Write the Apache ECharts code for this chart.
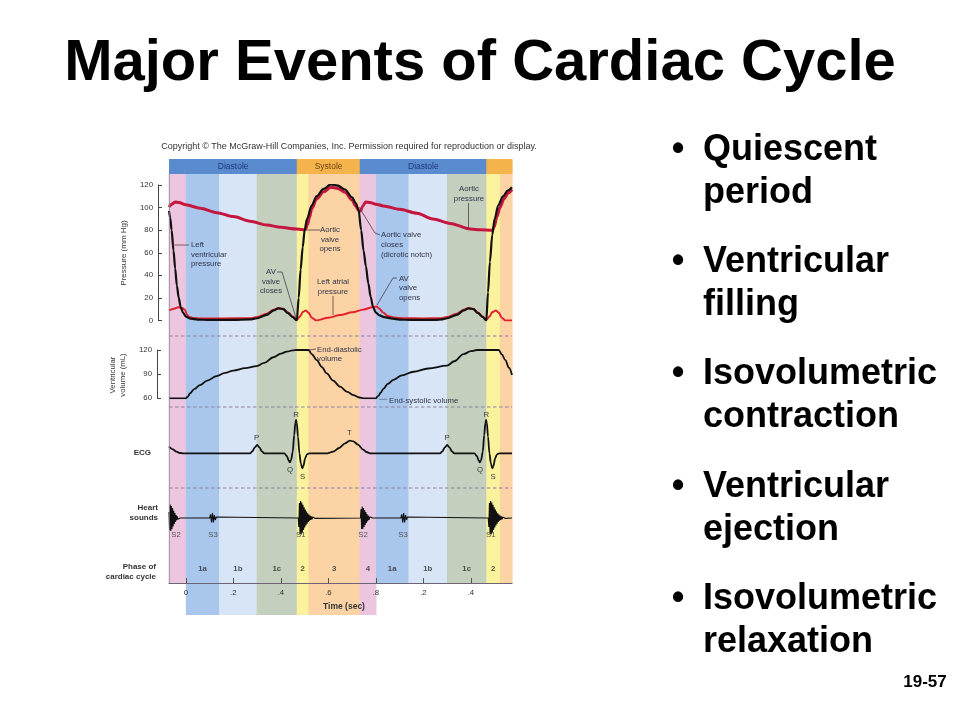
<!DOCTYPE html>
<html><head><meta charset="utf-8">
<script src="https://cdn.jsdelivr.net/npm/echarts@6/dist/echarts.min.js"></script>
<style>html,body{margin:0;padding:0;background:#fff}#c{width:960px;height:720px}</style>
</head><body><div id="c"></div>
<script>
// ---------------- data ----------------
const timeRange = [-0.071, 1.373];
const phaseBounds = [-0.071, 0, 0.14, 0.298, 0.467, 0.516, 0.732, 0.80, 0.937, 1.099, 1.265, 1.322, 1.373];
const phaseNames  = ['4', '1a', '1b', '1c', '2', '3', '4', '1a', '1b', '1c', '2', '3'];
const phaseLabels = ['', '1a', '1b', '1c', '2', '3', '4', '1a', '1b', '1c', '2', ''];
const extendedPhaseRange = [0, 0.80];
const headerBounds = [-0.071, 0.467, 0.732, 1.265, 1.373];
const headerNames  = ['Diastole', 'Systole', 'Diastole', ''];
const timeTicks = [0, 0.2, 0.4, 0.6, 0.8, 1.0, 1.2];
const timeTickLabels = ['0', '.2', '.4', '.6', '.8', '.2', '.4'];

const lvPressure = [
  [-0.071, 97], [-0.066, 91], [-0.06, 80], [-0.052, 62], [-0.045, 46], [-0.038, 31], [-0.03, 20], [-0.022, 12], [-0.012, 7],
  [0.0, 3.5], [0.02, 1.6], [0.05, 0.8], [0.1, 0.5], [0.2, 0.5], [0.27, 1], [0.3, 2], [0.34, 5], [0.37, 9], [0.39, 10.8],
  [0.41, 10], [0.43, 6.5], [0.45, 3], [0.467, 0],
  [0.475, 20], [0.483, 45], [0.492, 65], [0.50, 80], [0.51, 90], [0.53, 102], [0.55, 110], [0.58, 116.5], [0.61, 120.5],
  [0.64, 119.5], [0.67, 116], [0.70, 109], [0.715, 104], [0.727, 98], [0.738, 80], [0.748, 62], [0.758, 48], [0.768, 33],
  [0.778, 21], [0.788, 12], [0.80, 7], [0.815, 4.5], [0.835, 3], [0.87, 1.6], [0.9, 0.8], [0.95, 0.5], [1.05, 0.5],
  [1.08, 1], [1.1, 2], [1.14, 5], [1.17, 9], [1.19, 10.8], [1.21, 10], [1.23, 6.5], [1.25, 3], [1.265, 0],
  [1.272, 25], [1.28, 52], [1.29, 76], [1.30, 90], [1.315, 102], [1.335, 110], [1.355, 115], [1.373, 118]
];
const aorticPressure = [
  [-0.071, 100.5], [-0.06, 103], [-0.045, 105], [-0.03, 104.5], [0.0, 102.5], [0.06, 99.4], [0.13, 95.5], [0.2, 92],
  [0.27, 88], [0.34, 84.6], [0.40, 82.5], [0.467, 81], [0.503, 80.3],
  [0.512, 85], [0.52, 91], [0.53, 99], [0.55, 107.5], [0.58, 114], [0.61, 118], [0.64, 117], [0.67, 113.5], [0.70, 106.5],
  [0.715, 101.5], [0.727, 97.5], [0.735, 97], [0.745, 101.5], [0.757, 105], [0.775, 104.5], [0.80, 103], [0.832, 101.5],
  [0.9, 98.5], [0.973, 95], [1.04, 90], [1.113, 86], [1.197, 81], [1.24, 80.3], [1.29, 80],
  [1.298, 83], [1.31, 92], [1.322, 100], [1.34, 108], [1.357, 113], [1.373, 116]
];
const atrialPressure = [
  [-0.071, 9], [-0.05, 10.5], [-0.032, 11.7], [-0.015, 11], [-0.004, 9.5], [0.005, 5], [0.015, 3], [0.03, 2.2], [0.06, 1.8],
  [0.15, 1.8], [0.27, 2], [0.3, 3], [0.34, 6], [0.37, 9.5], [0.39, 11], [0.41, 10.3], [0.43, 7], [0.45, 3.5], [0.467, 0.5],
  [0.48, 3.5], [0.492, 7.5], [0.505, 8.8], [0.516, 7], [0.53, 2.5], [0.548, 0], [0.6, 2.5], [0.65, 4.8], [0.7, 7.2],
  [0.75, 9.8], [0.785, 11.8], [0.802, 12.3], [0.815, 10.5], [0.83, 7], [0.85, 4], [0.875, 2.6], [0.92, 2], [1.0, 1.8],
  [1.07, 2], [1.1, 3], [1.14, 6], [1.17, 9.5], [1.19, 11], [1.21, 10.3], [1.23, 7], [1.25, 3.5], [1.265, 0.5],
  [1.278, 3.5], [1.29, 7.5], [1.305, 8.8], [1.317, 7], [1.33, 2.5], [1.345, 0], [1.373, 0]
];
const ventricularVolume = [
  [-0.071, 60], [0.0, 60], [0.008, 62], [0.017, 66], [0.035, 71.5], [0.059, 76.3], [0.09, 82], [0.129, 87.5], [0.165, 91.5],
  [0.2, 94.5], [0.25, 97.5], [0.298, 100], [0.33, 104], [0.368, 111], [0.4, 115.5], [0.425, 118], [0.45, 119.5], [0.467, 120],
  [0.516, 120], [0.53, 115], [0.551, 107.5], [0.572, 99], [0.593, 91], [0.62, 82], [0.649, 74.4], [0.68, 68], [0.705, 64],
  [0.73, 61], [0.748, 60], [0.80, 60], [0.81, 63], [0.82, 67], [0.832, 72], [0.85, 78], [0.874, 83], [0.91, 88.5],
  [0.958, 93], [1.02, 97], [1.099, 100.5], [1.13, 106], [1.169, 115], [1.2, 118.5], [1.226, 120], [1.317, 120],
  [1.33, 114.5], [1.345, 107.5], [1.36, 98], [1.373, 89]
];
const ecgTrace = [
  [-0.071, 0.2], [-0.055, 0.12], [-0.04, 0.05], [-0.025, 0.01], [-0.01, 0], [0.27, 0], [0.28, 0.06], [0.29, 0.18], [0.3, 0.25],
  [0.31, 0.18], [0.32, 0.06], [0.33, 0], [0.415, 0], [0.425, -0.08], [0.433, -0.22], [0.438, -0.27], [0.443, -0.2],
  [0.45, 0.05], [0.456, 0.55], [0.461, 0.92], [0.464, 1.0], [0.467, 0.92], [0.472, 0.5], [0.478, 0.0], [0.484, -0.3],
  [0.49, -0.45], [0.495, -0.38], [0.502, -0.15], [0.51, -0.03], [0.52, 0], [0.595, 0], [0.62, 0.05], [0.645, 0.16],
  [0.67, 0.3], [0.69, 0.38], [0.705, 0.36], [0.725, 0.26], [0.745, 0.12], [0.76, 0.04], [0.775, 0],
  [1.07, 0], [1.08, 0.06], [1.09, 0.18], [1.1, 0.25], [1.11, 0.18], [1.12, 0.06], [1.13, 0], [1.215, 0], [1.225, -0.08],
  [1.233, -0.22], [1.238, -0.27], [1.243, -0.2], [1.25, 0.05], [1.256, 0.55], [1.261, 0.92], [1.264, 1.0], [1.267, 0.92],
  [1.272, 0.5], [1.278, 0], [1.284, -0.3], [1.29, -0.45], [1.295, -0.38], [1.302, -0.15], [1.31, -0.03], [1.32, 0], [1.373, 0]
];
const heartSounds = [
  [-0.071, 0.3], [-0.0685, -0.6], [-0.066, 0.68], [-0.0635, -0.65], [-0.061, 0.6], [-0.0585, -0.55], [-0.056, 0.5],
  [-0.0535, -0.42], [-0.051, 0.36], [-0.0485, -0.3], [-0.046, 0.25], [-0.0435, -0.2], [-0.041, 0.15], [-0.0385, -0.11],
  [-0.036, 0.08], [-0.0335, -0.06], [-0.031, 0.04], [-0.028, -0.02], [-0.024, 0],
  [0.1, 0], [0.104, 0.18], [0.108, -0.22], [0.112, 0.25], [0.116, -0.22], [0.12, 0.15], [0.124, -0.1], [0.128, 0.05], [0.132, 0],
  [0.473, 0], [0.4755, -0.45], [0.478, 0.75], [0.4805, -0.8], [0.483, 0.85], [0.4855, -0.82], [0.488, 0.78], [0.4905, -0.72],
  [0.493, 0.66], [0.4955, -0.6], [0.498, 0.54], [0.5005, -0.48], [0.503, 0.42], [0.5055, -0.37], [0.508, 0.32], [0.5105, -0.28],
  [0.513, 0.24], [0.5155, -0.2], [0.518, 0.17], [0.5205, -0.14], [0.523, 0.12], [0.5255, -0.1], [0.528, 0.08], [0.531, -0.07],
  [0.534, 0.05], [0.537, -0.04], [0.541, 0.03], [0.545, -0.02], [0.55, 0],
  [0.735, 0], [0.7375, 0.45], [0.74, -0.55], [0.7425, 0.58], [0.745, -0.55], [0.7475, 0.5], [0.75, -0.45], [0.7525, 0.4],
  [0.755, -0.35], [0.7575, 0.3], [0.76, -0.25], [0.7625, 0.2], [0.765, -0.16], [0.768, 0.12], [0.771, -0.09], [0.774, 0.06],
  [0.777, -0.04], [0.781, 0.02], [0.786, 0],
  [0.905, 0], [0.909, 0.18], [0.913, -0.22], [0.917, 0.25], [0.921, -0.22], [0.925, 0.15], [0.929, -0.1], [0.933, 0.05], [0.937, 0],
  [1.273, 0], [1.2755, -0.45], [1.278, 0.75], [1.2805, -0.8], [1.283, 0.85], [1.2855, -0.82], [1.288, 0.78], [1.2905, -0.72],
  [1.293, 0.66], [1.2955, -0.6], [1.298, 0.54], [1.3005, -0.48], [1.303, 0.42], [1.3055, -0.37], [1.308, 0.32], [1.3105, -0.28],
  [1.313, 0.24], [1.3155, -0.2], [1.318, 0.17], [1.3205, -0.14], [1.323, 0.12], [1.3255, -0.1], [1.328, 0.08], [1.331, -0.07],
  [1.334, 0.05], [1.337, -0.04], [1.341, 0.03], [1.345, -0.02], [1.35, 0],
  [1.373, 0]
];
const bulletItems = [
  ['Quiescent', 'period'], ['Ventricular', 'filling'], ['Isovolumetric', 'contraction'],
  ['Ventricular', 'ejection'], ['Isovolumetric', 'relaxation']
];

// ---------------- styling / layout ----------------
const phaseColors = { '4': '#ecc6df', '1a': '#a9c6ec', '1b': '#d8e5f6', '1c': '#c5cfbe', '2': '#faf29c', '3': '#fbd3a5' };
const headerColors = { 'Diastole': '#5b8bcf', 'Systole': '#f5b34c', '': '#f5b34c' };
const headerText = { 'Diastole': '#1c3a78', 'Systole': '#6a4508', '': '#000' };
const FONT = '"Liberation Sans", Arial, Helvetica, sans-serif';
const PL = 169, PW = 343;
// background grid: value = 615 - pixelY
const BG = { headTop: 456, headBot: 441, bandBot: 32, extBot: 0 };

const bandData = [];
for (let i = 0; i < phaseNames.length; i++) {
  const t0 = phaseBounds[i], t1 = phaseBounds[i + 1];
  const inExt = t0 >= extendedPhaseRange[0] - 1e-9 && t1 <= extendedPhaseRange[1] + 1e-9;
  bandData.push({ value: [t0, t1, inExt ? BG.extBot : BG.bandBot, BG.headBot], itemStyle: { color: phaseColors[phaseNames[i]] } });
}
const headerData = [];
for (let i = 0; i < headerNames.length; i++) {
  headerData.push({ name: headerNames[i], value: [headerBounds[i], headerBounds[i + 1], BG.headBot, BG.headTop], itemStyle: { color: headerColors[headerNames[i]] } });
}
const phaseLabelData = [];
for (let i = 0; i < phaseLabels.length; i++) {
  if (phaseLabels[i]) phaseLabelData.push({ name: phaseLabels[i], value: [(phaseBounds[i] + phaseBounds[i + 1]) / 2, 0.326] });
}

function rectItem(params, api) {
  const a = api.coord([api.value(0), api.value(3)]);
  const b = api.coord([api.value(1), api.value(2)]);
  return { type: 'rect', shape: { x: a[0], y: a[1], width: b[0] - a[0] + 0.6, height: b[1] - a[1] }, style: { fill: api.visual('color') } };
}
function headerItem(params, api) {
  const el = rectItem(params, api);
  const nm = headerNames[params.dataIndex];
  if (nm) {
    el.textContent = { style: { text: nm, fill: headerText[nm], font: '8.5px ' + FONT } };
    el.textConfig = { position: 'inside' };
  }
  return el;
}

function txt(x, y, text, size, o) {
  o = o || {};
  const lh = o.lh || Math.round(size * 1.3);
  let yy = y - lh / 2;
  const el = {
    type: 'text', x: x, y: yy, z: 100, silent: true,
    style: {
      text: text, fill: o.color || '#222', font: (o.weight || 'normal') + ' ' + size + 'px ' + FONT,
      lineHeight: lh, align: o.align || 'left', textAlign: o.align || 'left', verticalAlign: 'top', textVerticalAlign: 'top'
    }
  };
  if (o.rot) {
    el.x = x; el.y = y; el.rotation = o.rot;
    el.style.verticalAlign = 'middle'; el.style.textVerticalAlign = 'middle';
    el.style.align = 'center'; el.style.textAlign = 'center';
  }
  return el;
}
function poly(pts, color, w, dash) {
  return { type: 'polyline', z: 100, silent: true, shape: { points: pts }, style: { stroke: color || '#4a3f48', lineWidth: w || 0.8, fill: null, lineDash: dash || null } };
}

const ANNO = '#2e3548';
const g = [];
// title
g.push({ type: 'text', x: 480, y: 64, z: 100, style: { text: 'Major Events of Cardiac Cycle', font: 'bold 58px ' + FONT, fill: '#000', align: 'center', textAlign: 'center', verticalAlign: 'middle', textVerticalAlign: 'middle' } });
// bullets
const bulletBase0 = 161, bulletStep = 112.3, bulletLine = 43, bulletSize = 36;
bulletItems.forEach(function (it, i) {
  const b = bulletBase0 + i * bulletStep;
  const mid = b - 0.31 * bulletSize;
  g.push({ type: 'text', x: 678, y: mid, z: 100, style: { text: '•', font: 'bold ' + bulletSize + 'px ' + FONT, fill: '#000', align: 'center', textAlign: 'center', verticalAlign: 'middle', textVerticalAlign: 'middle' } });
  it.forEach(function (line, j) {
    g.push({ type: 'text', x: 703, y: mid + j * bulletLine, z: 100, style: { text: line, font: 'bold ' + bulletSize + 'px ' + FONT, fill: '#000', align: 'left', textAlign: 'left', verticalAlign: 'middle', textVerticalAlign: 'middle' } });
  });
});
g.push({ type: 'text', x: 925, y: 682, z: 100, style: { text: '19-57', font: 'bold 17px ' + FONT, fill: '#000', align: 'center', textAlign: 'center', verticalAlign: 'middle', textVerticalAlign: 'middle' } });
// copyright
g.push(txt(349, 147, 'Copyright \u00A9 The McGraw-Hill Companies, Inc. Permission required for reproduction or display.', 9, { align: 'center', color: '#333' }));
// dashed separators
[336, 407, 488].forEach(function (y) { g.push(poly([[PL, y], [PL + PW, y]], '#8a82a0', 1.1, [3.5, 2.5])); });
// left edge line
g.push(poly([[PL + 0.3, 174], [PL + 0.3, 583]], '#8a7f92', 0.8));
// axis names / row labels
g.push(txt(124, 253, 'Pressure (mm Hg)', 8, { rot: Math.PI / 2, color: '#333' }));
g.push(txt(118, 375, 'Ventricular\nvolume (mL)', 7.8, { rot: Math.PI / 2, color: '#333', lh: 10 }));
g.push(txt(151, 453, 'ECG', 8, { align: 'right', weight: 'bold', color: '#333' }));
g.push(txt(158, 508, 'Heart\nsounds', 8, { align: 'right', weight: 'bold', color: '#333', lh: 10 }));
g.push(txt(156, 567, 'Phase of\ncardiac cycle', 8, { align: 'right', weight: 'bold', color: '#333', lh: 10 }));
g.push(txt(344, 607, 'Time (sec)', 8.5, { align: 'center', weight: 'bold', color: '#333' }));
// pressure annotations
g.push(txt(191, 245, 'Left\nventricular\npressure', 7.8, { color: ANNO, lh: 9.6 }));
g.push(poly([[172, 245], [189, 245]], '#6a3a48'));
g.push(txt(271, 272, 'AV\nvalve\ncloses', 7.8, { color: ANNO, lh: 9.6, align: 'center' }));
g.push(poly([[277, 272], [282, 272], [296, 318]]));
g.push(txt(330, 230, 'Aortic\nvalve\nopens', 7.8, { color: ANNO, lh: 9.6, align: 'center' }));
g.push(poly([[307, 230], [320, 230]]));
g.push(txt(333, 282, 'Left atrial\npressure', 7.8, { color: ANNO, lh: 9.6, align: 'center' }));
g.push(poly([[333, 296], [333, 315]], '#6a3a48'));
g.push(txt(381, 235, 'Aortic valve\ncloses\n(dicrotic notch)', 7.8, { color: ANNO, lh: 9.8 }));
g.push(poly([[359, 207], [375, 233], [380, 235]]));
g.push(txt(399, 278.5, 'AV\nvalve\nopens', 7.8, { color: ANNO, lh: 9.6 }));
g.push(poly([[397, 278], [393, 278], [377, 305]]));
g.push(txt(469, 189, 'Aortic\npressure', 7.8, { color: ANNO, lh: 9.4, align: 'center' }));
g.push(poly([[468.5, 203], [468.5, 229]], '#5a3a40'));
// volume annotations
g.push(txt(317, 349.5, 'End-diastolic\nvolume', 7.8, { color: ANNO, lh: 9.8 }));
g.push(poly([[309, 350], [316, 349]]));
g.push(txt(389, 400.7, 'End-systolic volume', 7.8, { color: ANNO }));
g.push(poly([[379, 399.3], [387, 399.3]], '#6070a0'));
// ECG labels
[['P', 256.7, 438], ['R', 296, 415], ['Q', 290, 470], ['S', 302.7, 476.7], ['T', 349.3, 433],
 ['P', 447, 438], ['R', 486.3, 415], ['Q', 480, 470], ['S', 493, 476.7]].forEach(function (l) {
  g.push(txt(l[1], l[2], l[0], 7.8, { align: 'center', color: '#3a3a3a' }));
});
// heart sound labels
[['S2', 176, 535], ['S3', 213, 535], ['S1', 300.7, 535], ['S2', 363, 535], ['S3', 403, 535], ['S1', 490.7, 535]].forEach(function (l) {
  g.push(txt(l[1], l[2], l[0], 7.8, { align: 'center', color: '#555' }));
});

// ---------------- chart ----------------
const grids = [
  { left: PL, width: PW, top: 159, height: 456 },   // 0 background bands
  { left: PL, width: PW, top: 185, height: 135.5 }, // 1 pressure
  { left: PL, width: PW, top: 350, height: 48.3 },  // 2 volume
  { left: PL, width: PW, top: 420, height: 50 },    // 3 ecg
  { left: PL, width: PW, top: 498, height: 40 },    // 4 heart sounds
  { left: PL, width: PW, top: 540, height: 43 }     // 5 time axis / phases
];
const xAxes = grids.map(function (gr, i) {
  return { type: 'value', gridIndex: i, min: timeRange[0], max: timeRange[1], show: false };
});
xAxes[5] = {
  type: 'value', gridIndex: 5, min: timeRange[0], max: timeRange[1], show: true,
  axisLine: { show: true, onZero: false, lineStyle: { color: '#6d6478', width: 1.2 } },
  axisTick: { show: true, inside: true, length: 5, customValues: timeTicks, lineStyle: { color: '#555', width: 1 } },
  axisLabel: {
    show: true, customValues: timeTicks, fontSize: 7.8, color: '#333', margin: 6, fontFamily: FONT,
    formatter: function (v) { for (let i = 0; i < timeTicks.length; i++) if (Math.abs(timeTicks[i] - v) < 1e-6) return timeTickLabels[i]; return ''; }
  },
  splitLine: { show: false }
};
const hiddenY = function (i, mn, mx) { return { type: 'value', gridIndex: i, min: mn, max: mx, show: false }; };
const yAxes = [
  hiddenY(0, 0, 456),
  {
    type: 'value', gridIndex: 1, min: 0, max: 120, interval: 20, offset: 11,
    axisLine: { show: true, onZero: false, lineStyle: { color: '#444', width: 1 } },
    axisTick: { show: true, inside: true, length: 4, lineStyle: { color: '#444' } },
    axisLabel: { fontSize: 7.8, color: '#333', margin: 5, fontFamily: FONT }, splitLine: { show: false }
  },
  {
    type: 'value', gridIndex: 2, min: 60, max: 120, interval: 30, offset: 12,
    axisLine: { show: true, onZero: false, lineStyle: { color: '#444', width: 1 } },
    axisTick: { show: true, inside: true, length: 4, lineStyle: { color: '#444' } },
    axisLabel: { fontSize: 7.8, color: '#333', margin: 5, fontFamily: FONT }, splitLine: { show: false }
  },
  hiddenY(3, -0.5, 1),
  hiddenY(4, -1, 1),
  hiddenY(5, 0, 1)
];
function lineSeries(name, data, gi, color, width, smooth, z) {
  return {
    name: name, type: 'line', xAxisIndex: gi, yAxisIndex: gi, data: data, showSymbol: false, symbol: 'none',
    smooth: smooth, smoothMonotone: 'x', lineStyle: { color: color, width: width }, z: z, silent: true, animation: false
  };
}
const option = {
  backgroundColor: '#fff',
  animation: false,
  grid: grids,
  xAxis: xAxes,
  yAxis: yAxes,
  series: [
    { type: 'custom', name: 'phases', xAxisIndex: 0, yAxisIndex: 0, renderItem: rectItem, data: bandData, encode: { x: [0, 1], y: [2, 3] }, z: 0, silent: true },
    { type: 'custom', name: 'header', xAxisIndex: 0, yAxisIndex: 0, renderItem: headerItem, data: headerData, encode: { x: [0, 1], y: [2, 3] }, z: 1, silent: true },
    lineSeries('Aortic pressure', aorticPressure, 1, '#c4163f', 3, 0.3, 3),
    lineSeries('Left atrial pressure', atrialPressure, 1, '#e3202c', 2, 0.3, 4),
    lineSeries('Left ventricular pressure', lvPressure, 1, '#111', 2.2, 0.3, 5),
    lineSeries('Ventricular volume', ventricularVolume, 2, '#111', 1.8, 0.35, 5),
    lineSeries('ECG', ecgTrace, 3, '#111', 1.8, 0.3, 5),
    lineSeries('Heart sounds', heartSounds, 4, '#111', 1.1, false, 5),
    {
      type: 'scatter', name: 'phase labels', xAxisIndex: 5, yAxisIndex: 5, data: phaseLabelData, symbolSize: 0, z: 6, silent: true,
      label: { show: true, position: 'inside', formatter: '{b}', fontSize: 7.8, fontWeight: 'bold', color: '#2a2a2a', fontFamily: FONT }
    }
  ],
  graphic: { elements: g }
};
const chart = echarts.init(document.getElementById('c'), null, { renderer: 'canvas' });
chart.setOption(option);
</script>
</body></html>
